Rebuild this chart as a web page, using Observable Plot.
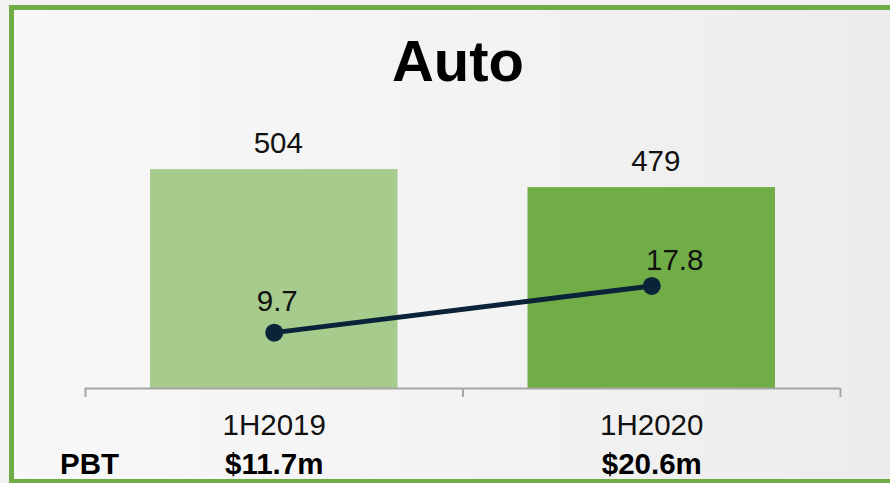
<!DOCTYPE html>
<html>
<head>
<meta charset="utf-8">
<script src="https://cdn.jsdelivr.net/npm/d3@7"></script>
<script src="https://cdn.jsdelivr.net/npm/@observablehq/plot@0.6"></script>
<style>
  html, body { margin: 0; padding: 0; background: #f2f2f2; }
  body { width: 890px; height: 483px; overflow: hidden; position: relative; font-family: "Liberation Sans", Arial, sans-serif; }
  #frame {
    position: absolute; left: 9px; top: 5px; width: 900px; height: 479px; box-sizing: border-box;
    border: 5px solid #6fac46;
    background: linear-gradient(to right, #f8f8f8 0%, #f3f3f3 50%, #ececec 100%);
  }
  #title {
    position: absolute; left: 0; top: 26px; width: 916px; text-align: center;
    font: bold 58px "Liberation Sans", Arial, sans-serif; color: #000; line-height: 70px;
  }
  #chart { position: absolute; left: 0; top: 0; }
</style>
</head>
<body>
<div id="frame"></div>
<div id="title">Auto</div>
<div id="chart"></div>
<script>
// ---- data ----
const categories = ["1H2019", "1H2020"];
const revenue = [504, 479];
const pbtMargin = [9.7, 17.8];
const pbtLabels = ["$11.7m", "$20.6m"];
const rowLabel = "PBT";
const barColors = ["#a6cb8d", "#70ad47"];

// scales
const yMin = 200, yMax = 600;   // primary axis (bars)
const rMax = 50;                // secondary axis (line), 0..50
const toY = v => yMin + v * (yMax - yMin) / rMax;

const bars = categories.map((c, i) => ({i, c, v: revenue[i], color: barColors[i]}));
const pts = categories.map((c, i) => ({i, c, v: pbtMargin[i], pbt: pbtLabels[i]}));

const font = "Liberation Sans, Arial, sans-serif";
const fs = 29.5;

const plot = Plot.plot({
  width: 890,
  height: 483,
  marginLeft: 85,
  marginRight: 50,
  marginTop: 100,
  marginBottom: 95,
  style: {background: "transparent", fontFamily: font, overflow: "visible"},
  x: {domain: [0, categories.length], axis: null},
  y: {domain: [yMin, yMax], axis: null},
  marks: [
    Plot.rectY(bars, {x1: d => d.i, x2: d => d.i + 1, y1: yMin, y2: d => d.v, fill: d => d.color, insetLeft: 65, insetRight: 65}),
    Plot.ruleY([yMin], {stroke: "#a6a6a6", strokeWidth: 2}),
    Plot.axisX({ticks: d3.range(categories.length + 1), tickSize: 9, tickFormat: () => "", stroke: "#a6a6a6", strokeWidth: 2, tickPadding: 0}),
    Plot.text(bars, {x: d => d.i + 0.5, y: d => d.v, text: d => String(d.v), dy: -17, dx: 4, lineAnchor: "bottom", fontSize: fs, fill: "#111"}),
    Plot.line(pts, {x: d => d.i + 0.5, y: d => toY(d.v), stroke: "#0b2338", strokeWidth: 5}),
    Plot.dot(pts, {x: d => d.i + 0.5, y: d => toY(d.v), r: 9, fill: "#0b2338"}),
    Plot.text(pts.filter(d => d.i === 0), {x: d => d.i + 0.5, y: d => toY(d.v), text: d => String(d.v), dy: -22, dx: 3, lineAnchor: "bottom", fontSize: fs, fill: "#111"}),
    Plot.text(pts.filter(d => d.i === 1), {x: d => d.i + 0.5, y: d => toY(d.v), text: d => String(d.v), dy: -16, dx: 23, lineAnchor: "bottom", fontSize: fs, fill: "#111"}),
    Plot.text(categories, {x: (d, i) => i + 0.5, y: yMin, text: d => d, dy: 46, lineAnchor: "bottom", fontSize: fs, fill: "#111"}),
    Plot.text(pts, {x: d => d.i + 0.5, y: yMin, text: d => d.pbt, dy: 85, lineAnchor: "bottom", fontSize: fs, fontWeight: "bold", fill: "#000"}),
    Plot.text([rowLabel], {x: 0, y: yMin, text: d => d, dy: 85, dx: 4, lineAnchor: "bottom", fontSize: fs, fontWeight: "bold", fill: "#000"})
  ]
});
document.getElementById("chart").appendChild(plot);
</script>
</body>
</html>
